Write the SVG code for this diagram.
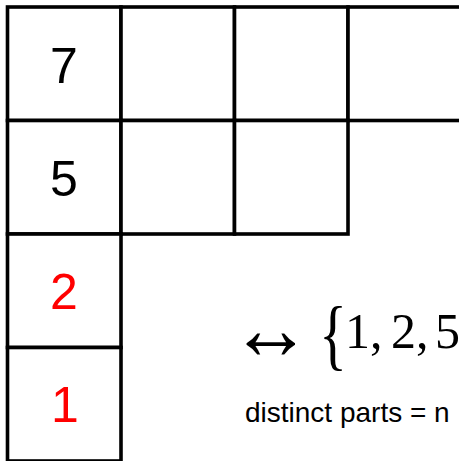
<svg xmlns="http://www.w3.org/2000/svg" width="459" height="461" viewBox="0 0 459 461">
<style>
.cell{fill:#fff;stroke:#000;stroke-width:3.6}
.num{font-family:"Liberation Sans","DejaVu Sans",sans-serif;font-size:50px;text-anchor:middle}
.red{fill:#ff0000}
.math{font-family:"Liberation Serif","DejaVu Serif",serif;font-size:50px}
.brace{font-size:78px}
.lbl{font-family:"Liberation Sans","DejaVu Sans",sans-serif;font-size:28px}
</style>
<rect width="459" height="461" fill="#fff"/>
<g id="cell-r1c1"><rect class="cell" x="7.5" y="7" width="113.5" height="113.5"/><text class="num" x="64" y="83">7</text></g>
<g id="cell-r1c2"><rect class="cell" x="121" y="7" width="113.5" height="113.5"/></g>
<g id="cell-r1c3"><rect class="cell" x="234.5" y="7" width="113.5" height="113.5"/></g>
<g id="cell-r1c4"><rect class="cell" x="348" y="7" width="113.5" height="113.5"/></g>
<g id="cell-r2c1"><rect class="cell" x="7.5" y="120.5" width="113.5" height="113.5"/><text class="num" x="64" y="196">5</text></g>
<g id="cell-r2c2"><rect class="cell" x="121" y="120.5" width="113.5" height="113.5"/></g>
<g id="cell-r2c3"><rect class="cell" x="234.5" y="120.5" width="113.5" height="113.5"/></g>
<g id="cell-r3c1"><rect class="cell" x="7.5" y="234" width="113.5" height="113.5"/><text class="num red" x="64" y="309">2</text></g>
<g id="cell-r4c1"><rect class="cell" x="7.5" y="347.5" width="113.5" height="113.5"/><text class="num red" x="65" y="422">1</text></g>
<g id="connectors"></g>
<g id="formula">
<text class="math" transform="translate(230 359) scale(1.64 1.8)">↔</text>
<text class="math brace" transform="translate(319 361) scale(0.75 1)">{</text>
<text class="math" y="348"><tspan x="345">1,</tspan><tspan x="391">2,</tspan><tspan x="435">5</tspan></text>
</g>
<g id="caption"><text class="lbl" x="245" y="422">distinct parts = n</text></g>
</svg>
